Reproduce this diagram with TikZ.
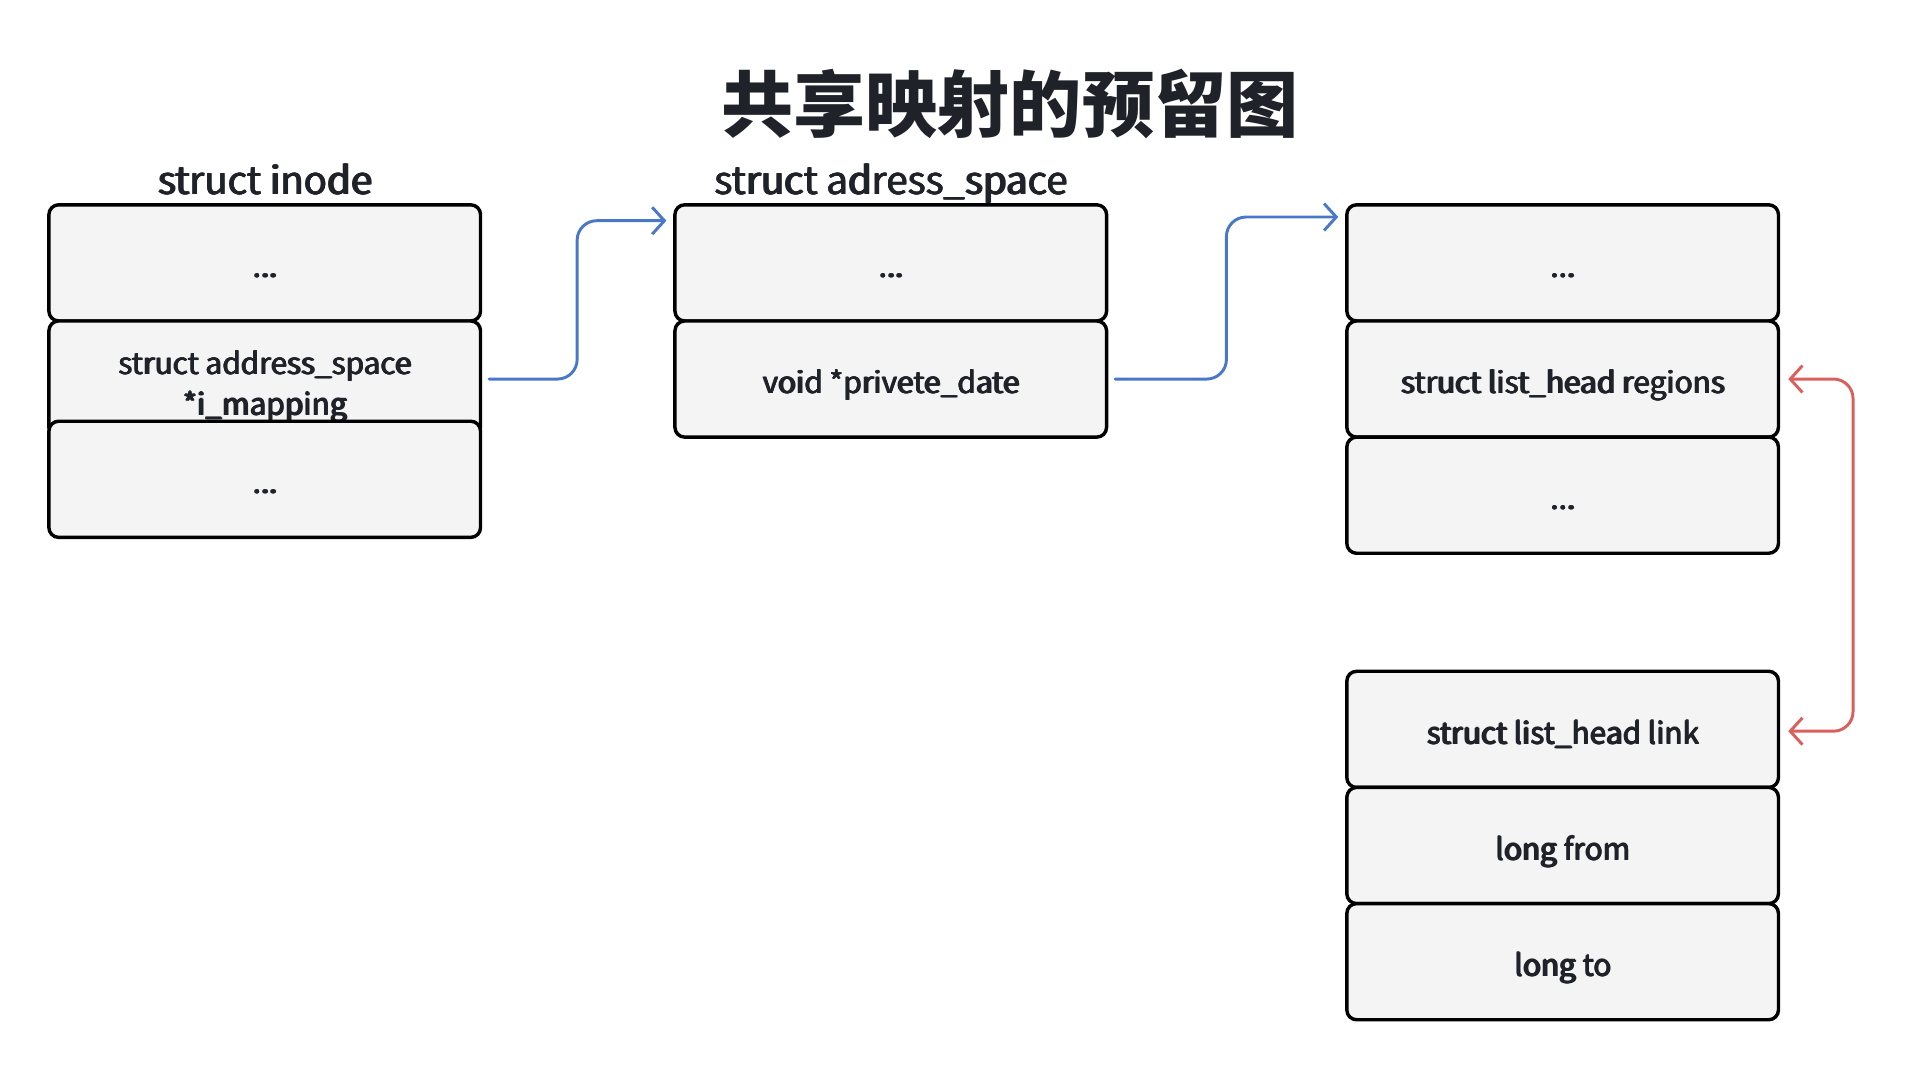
\documentclass[tikz,border=0pt]{standalone}
\usepackage{fontspec}
\setmainfont{Noto Sans CJK SC}
\usetikzlibrary{positioning,arrows.meta}

\definecolor{boxfill}{HTML}{F4F4F4}
\definecolor{inkc}{HTML}{1F2329}
\definecolor{linkblue}{HTML}{4A78C8}
\definecolor{linkred}{HTML}{D9605B}

% semi-bold look: regular weight printed with small offsets
\newcommand\heavytext[1]{\rlap{\kern0.6pt#1}\rlap{\kern0.3pt\raisebox{0.2pt}{#1}}\rlap{\kern0.3pt#1}#1}

\begin{document}
\begin{tikzpicture}[x=0.5pt,y=-0.5pt,
    field/.style={rectangle, draw=black, fill=boxfill, rounded corners=4pt, line width=1.4pt,
      outer sep=0pt, minimum width=176.5pt, minimum height=47.5pt, align=center,
      text=inkc, font=\fontsize{12.2}{16.5}\selectfont, text height=14pt, text depth=2pt},
    header/.style={text=inkc, font=\fontsize{15.7}{18}\selectfont, inner sep=0pt, text depth=0pt},
    pointer/.style={line width=1.2pt, rounded corners=8pt, line cap=round,
      -{Straight Barb[length=5pt,width=11pt,line width=1.2pt]}},
    node distance=0pt]
        \useasboundingbox (0,0) rectangle (1567,877);
        % Title
        \node [text=inkc, font=\fontsize{29.5}{34}\selectfont\bfseries] (title) at (826,85) {共享映射的预留图};

        % struct inode
        \node [field] (inode1) at (216.5,215) {\heavytext{...}};
        \node [field, below=of inode1, text height=31.5pt] (inode2) {\heavytext{struct address\_space}\\\heavytext{*i\_mapping}};
        \node [field, below=-6.5pt of inode2] (inode3) {\heavytext{...}};
        \node [header, above=4pt of inode1] (inodetag) {\heavytext{struct inode}};

        % struct adress_space
        \node [field] (asp1) at (728.5,215) {\heavytext{...}};
        \node [field, below=of asp1] (asp2) {\heavytext{void *privete\_date}};
        \node [header, above=4pt of asp1] (asptag) {\heavytext{struct adress\_space}};

        % private data
        \node [field] (priv1) at (1278,215) {\heavytext{...}};
        \node [field, below=of priv1] (regions) {\heavytext{struct list\_head regions}};
        \node [field, below=of regions] (priv3) {\heavytext{...}};

        \node [field] (link) at (1278,596.5) {\heavytext{struct list\_head link}};
        \node [field, below=of link] (from) {\heavytext{long from}};
        \node [field, below=of from] (to) {\heavytext{long to}};

        % Arrows
        \draw [pointer, linkblue] ([xshift=3.5pt]inode2.east) -- ++(36pt,0) |- ([xshift=-3.5pt,yshift=-6.5pt]asp1.north west);
        \draw [pointer, linkblue] ([xshift=3.5pt]asp2.east) -- ++(45.5pt,0) |- ([xshift=-3.5pt,yshift=-5pt]priv1.north west);
        \draw [pointer, linkred, {Straight Barb[length=5pt,width=11pt,line width=1.2pt]}-{Straight Barb[length=5pt,width=11pt,line width=1.2pt]}]
            ([xshift=4pt]regions.east) -- ++(26.5pt,0) |- ([xshift=4pt,yshift=-0.75pt]link.east);
\end{tikzpicture}
\end{document}
